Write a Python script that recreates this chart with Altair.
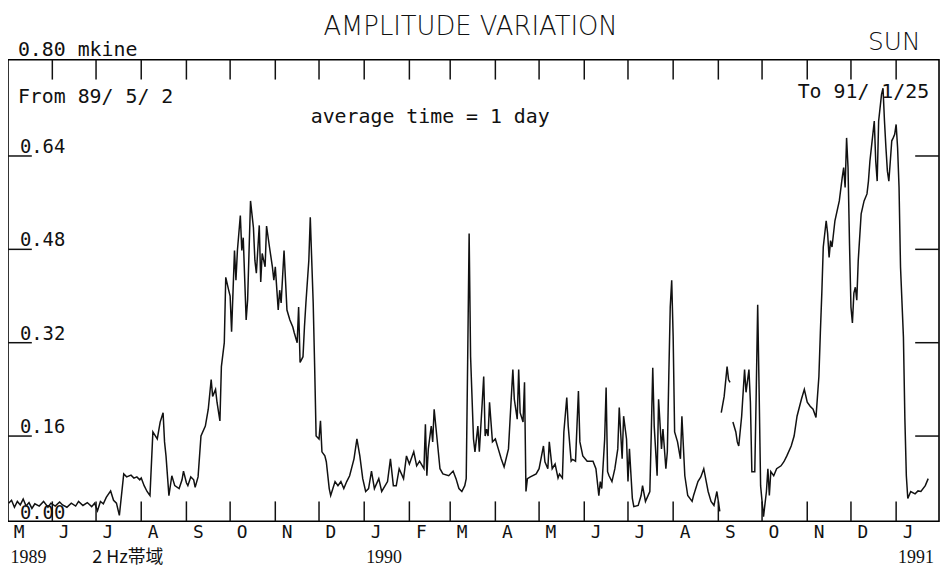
import altair as alt
import pandas as pd

# ---------------- data (day offset from 1989-05-02, amplitude in mkine)
days_a = [0, 2, 4, 6, 8, 10, 12, 14, 16, 18, 21, 24, 27, 29, 32, 35, 37, 40, 43, 46, 48, 51, 54, 57, 59,
          61, 63, 65, 67, 70, 72, 74, 76, 79, 81, 84, 86, 88, 90, 91, 93, 95, 97, 99, 102, 104, 106, 107,
          108, 110, 112, 114, 117, 119, 120, 122, 123, 125, 127, 128, 130, 132, 135, 137, 139, 140, 142,
          143, 145, 146, 148, 149, 151, 152, 153, 155, 156, 157, 159, 160, 161, 163, 164, 166, 168, 169,
          170, 172, 173, 174, 176, 177, 179, 181, 182, 183, 185, 186, 187, 189, 191, 193, 195, 196, 198,
          199, 200, 202, 203, 204, 206, 207, 208, 209, 210, 211, 213, 214, 215, 217, 218, 220, 221, 224,
          226, 228, 230, 232, 234, 237, 239, 241, 243, 245, 247, 249, 251, 254, 256, 260, 262, 264, 266,
          268, 271, 273, 275, 278, 280, 282, 285, 286, 287, 288, 290, 291, 292, 294, 296, 298, 302, 305,
          307, 309, 311, 313, 314, 315, 316, 317, 319, 320, 322, 323, 325, 326, 327, 328, 329, 330, 332,
          334, 336, 338, 340, 343, 344, 346, 347, 349, 350, 351, 353, 354, 355, 356, 358, 362, 364, 367,
          368, 370, 371, 373, 375, 377, 378, 380, 381, 383, 384, 386, 387, 389, 390, 391, 392, 394, 397,
          401, 403, 405, 406, 407, 409, 410, 411, 412, 414, 416, 418, 419, 421, 422, 424, 425, 426, 428,
          429, 432, 434, 435, 437, 440, 441, 442, 443, 445, 446, 448, 449, 451, 452, 453, 454, 455, 456,
          457, 459, 461, 462, 464, 466, 469, 470, 473, 475, 477, 480, 482, 484, 486, 488]
vals_a = [0.045, 0.050, 0.038, 0.048, 0.042, 0.052, 0.040, 0.046, 0.036, 0.044, 0.040, 0.048, 0.038,
          0.045, 0.040, 0.047, 0.042, 0.038, 0.045, 0.040, 0.048, 0.041, 0.046, 0.039, 0.045, 0.032,
          0.048, 0.044, 0.055, 0.066, 0.050, 0.045, 0.024, 0.095, 0.090, 0.093, 0.088, 0.090, 0.085,
          0.088, 0.075, 0.065, 0.058, 0.167, 0.155, 0.184, 0.200, 0.150, 0.126, 0.058, 0.092, 0.075,
          0.070, 0.085, 0.100, 0.080, 0.075, 0.090, 0.085, 0.072, 0.090, 0.160, 0.177, 0.206, 0.257,
          0.228, 0.240, 0.218, 0.186, 0.279, 0.320, 0.432, 0.410, 0.400, 0.339, 0.478, 0.427, 0.478,
          0.538, 0.478, 0.500, 0.359, 0.393, 0.563, 0.517, 0.461, 0.439, 0.521, 0.424, 0.473, 0.450,
          0.520, 0.484, 0.450, 0.427, 0.450, 0.376, 0.410, 0.388, 0.478, 0.376, 0.359, 0.347, 0.337,
          0.320, 0.381, 0.286, 0.296, 0.347, 0.388, 0.461, 0.535, 0.461, 0.388, 0.279, 0.160, 0.155,
          0.186, 0.133, 0.126, 0.116, 0.070, 0.058, 0.082, 0.075, 0.082, 0.070, 0.082, 0.092, 0.121,
          0.155, 0.126, 0.087, 0.065, 0.070, 0.100, 0.070, 0.087, 0.065, 0.082, 0.121, 0.075, 0.075,
          0.104, 0.087, 0.126, 0.112, 0.133, 0.109, 0.117, 0.104, 0.180, 0.092, 0.138, 0.177, 0.150,
          0.206, 0.155, 0.104, 0.095, 0.092, 0.100, 0.087, 0.070, 0.065, 0.075, 0.087, 0.291, 0.507,
          0.296, 0.155, 0.133, 0.177, 0.133, 0.218, 0.262, 0.160, 0.172, 0.160, 0.218, 0.150, 0.155,
          0.138, 0.121, 0.107, 0.138, 0.184, 0.274, 0.223, 0.189, 0.274, 0.200, 0.184, 0.252, 0.065,
          0.087, 0.090, 0.095, 0.104, 0.143, 0.116, 0.104, 0.150, 0.104, 0.112, 0.088, 0.095, 0.088,
          0.167, 0.226, 0.177, 0.117, 0.120, 0.117, 0.177, 0.237, 0.150, 0.126, 0.117, 0.117, 0.104,
          0.058, 0.082, 0.070, 0.155, 0.243, 0.099, 0.092, 0.082, 0.104, 0.138, 0.209, 0.121, 0.194,
          0.155, 0.082, 0.138, 0.053, 0.039, 0.041, 0.058, 0.075, 0.048, 0.065, 0.167, 0.277, 0.177,
          0.092, 0.223, 0.138, 0.172, 0.104, 0.133, 0.262, 0.381, 0.427, 0.330, 0.167, 0.150, 0.121,
          0.194, 0.092, 0.058, 0.048, 0.058, 0.082, 0.090, 0.104, 0.065, 0.048, 0.041, 0.065, 0.031]

days_b = [489, 491, 493, 494, 495]
vals_b = [0.200, 0.228, 0.279, 0.257, 0.252]

days_c = [497, 499, 500, 501, 503, 505, 506, 508, 509, 510, 512, 513, 514, 515, 516, 517, 518, 520,
          521, 522, 523, 525, 527, 530, 532, 534, 537, 539, 541, 544, 546, 548, 550, 552, 554, 556,
          557, 558, 559, 561, 562, 563, 564, 565, 567, 570, 572, 573, 574, 575, 576, 577, 578, 579,
          580, 581, 582, 583, 585, 586, 587, 589, 590, 591, 592, 594, 595, 596, 597, 599, 600, 601,
          602, 603, 604, 605, 606, 607, 608, 609, 610, 611, 612, 614, 615, 616, 617, 619, 622, 624,
          626, 629, 631]
vals_c = [0.184, 0.167, 0.150, 0.143, 0.194, 0.274, 0.235, 0.274, 0.218, 0.099, 0.099, 0.235, 0.385,
          0.235, 0.075, 0.048, 0.022, 0.065, 0.104, 0.058, 0.099, 0.092, 0.104, 0.109, 0.116, 0.126,
          0.143, 0.160, 0.194, 0.223, 0.240, 0.218, 0.211, 0.206, 0.192, 0.262, 0.337, 0.405, 0.484,
          0.529, 0.507, 0.466, 0.495, 0.484, 0.529, 0.563, 0.603, 0.620, 0.586, 0.671, 0.620, 0.490,
          0.381, 0.354, 0.405, 0.415, 0.393, 0.461, 0.541, 0.552, 0.563, 0.575, 0.597, 0.631, 0.654,
          0.700, 0.631, 0.597, 0.700, 0.746, 0.756, 0.700, 0.654, 0.614, 0.597, 0.631, 0.666, 0.671,
          0.677, 0.694, 0.654, 0.586, 0.450, 0.330, 0.189, 0.092, 0.053, 0.065, 0.061, 0.066, 0.065,
          0.075, 0.087]

start_date = "1989-05-02"
month_letters = ["M", "J", "J", "A", "S", "O", "N", "D", "J", "F", "M", "A", "M", "J", "J", "A",
                 "S", "O", "N", "D", "J"]
month_starts = ["1989-05-01", "1989-06-01", "1989-07-01", "1989-08-01", "1989-09-01", "1989-10-01",
                "1989-11-01", "1989-12-01", "1990-01-01", "1990-02-01", "1990-03-01", "1990-04-01",
                "1990-05-01", "1990-06-01", "1990-07-01", "1990-08-01", "1990-09-01", "1990-10-01",
                "1990-11-01", "1990-12-01", "1991-01-01"]
year_labels = ["1989", "1990", "1991"]
year_dates = ["1989-05-02", "1990-01-01", "1991-01-01"]
ytick_values = [0.64, 0.48, 0.32, 0.16]
ylabel_texts = ["0.64", "0.48", "0.32", "0.16"]
zero_label = "0.00"

# ---------------- tables
start = pd.Timestamp(start_date)
rows = []
for seg, (dd, vv) in enumerate([(days_a, vals_a), (days_b, vals_b), (days_c, vals_c)]):
    for d, v in zip(dd, vv):
        rows.append({"date": start + pd.Timedelta(days=d), "amp": v, "seg": seg})
df = pd.DataFrame(rows)

df_months = pd.DataFrame({"m": pd.to_datetime(month_starts), "lab": month_letters})
df_ticks = df_months.iloc[1:]
df_years = pd.DataFrame({"d": pd.to_datetime(year_dates), "lab": year_labels})
df_yl = pd.DataFrame({"v": ytick_values, "lab": ylabel_texts})

W, H = 938, 465
MONO = "DejaVu Sans Mono"
INK = "#111111"

xscale = alt.Scale(domain=[alt.DateTime(year=1989, month=5, date=1, hours=14),
                           alt.DateTime(year=1991, month=1, date=30, hours=10)], nice=False)
yscale = alt.Scale(domain=[0.014, 0.805], zero=False, nice=False)

line = alt.Chart(df).mark_line(color=INK, strokeWidth=1.5).encode(
    x=alt.X("date:T", scale=xscale, axis=None),
    y=alt.Y("amp:Q", scale=yscale, axis=None),
    detail="seg:N",
)

top_ticks = alt.Chart(df_ticks).mark_rule(color=INK, strokeWidth=1.5).encode(
    x=alt.X("m:T", scale=xscale, axis=None), y=alt.value(0), y2=alt.value(20))
bot_ticks = alt.Chart(df_ticks).mark_rule(color=INK, strokeWidth=1.5).encode(
    x=alt.X("m:T", scale=xscale, axis=None), y=alt.value(H - 20), y2=alt.value(H))
month_text = alt.Chart(df_months).mark_text(
    font=MONO, fontSize=18, color=INK, align="center", baseline="alphabetic", dx=12
).encode(x=alt.X("m:T", scale=xscale, axis=None), y=alt.value(H + 17), text="lab:N")
year_text = alt.Chart(df_years).mark_text(
    font="Liberation Serif", fontSize=18, color=INK, align="left", baseline="alphabetic", dx=2
).encode(x=alt.X("d:T", scale=xscale, axis=None), y=alt.value(H + 42), text="lab:N")

left_ticks = alt.Chart(df_yl).mark_rule(color=INK, strokeWidth=1.5).encode(
    y=alt.Y("v:Q", scale=yscale, axis=None), x=alt.value(0), x2=alt.value(24))
right_ticks = alt.Chart(df_yl).mark_rule(color=INK, strokeWidth=1.5).encode(
    y=alt.Y("v:Q", scale=yscale, axis=None), x=alt.value(W - 24), x2=alt.value(W))
ylab = alt.Chart(df_yl).mark_text(
    font=MONO, fontSize=19, color=INK, align="left", baseline="alphabetic", dy=-3
).encode(y=alt.Y("v:Q", scale=yscale, axis=None), x=alt.value(12), text="lab:N")


def note(text, x, y, size, font=MONO, align="left", weight="normal"):
    return alt.Chart(pd.DataFrame({"t": [text]})).mark_text(
        font=font, fontSize=size, color=INK, align=align, baseline="alphabetic", fontWeight=weight
    ).encode(x=alt.value(x), y=alt.value(y), text="t:N")


notes = [
    note("AMPLITUDE VARIATION", 466, -25, 26, font="DejaVu Sans", align="center", weight=200),
    note("SUN", 893, -10, 25, font="DejaVu Sans", align="center", weight=200),
    note("0.80 mkine", 10, -4, 20),
    note("From 89/ 5/ 2", 10, 44, 20),
    note("To 91/ 1/25", 928, 39, 20, align="right"),
    note("average time = 1 day", 305, 64, 20),
    note(zero_label, 12, H - 2, 19),
    note("2 Hz帯域", 85, H + 42, 18, font="Noto Sans CJK JP"),
]

chart = alt.layer(
    line, top_ticks, bot_ticks, left_ticks, right_ticks, month_text, year_text, ylab, *notes
).properties(
    width=W, height=H, autosize="none",
    padding={"left": 0, "top": 50, "right": 1, "bottom": 44},
    background="white",
).configure_view(stroke="black", strokeWidth=1.6)

chart.save("out.html", embed_options={"renderer": "svg", "actions": False})
